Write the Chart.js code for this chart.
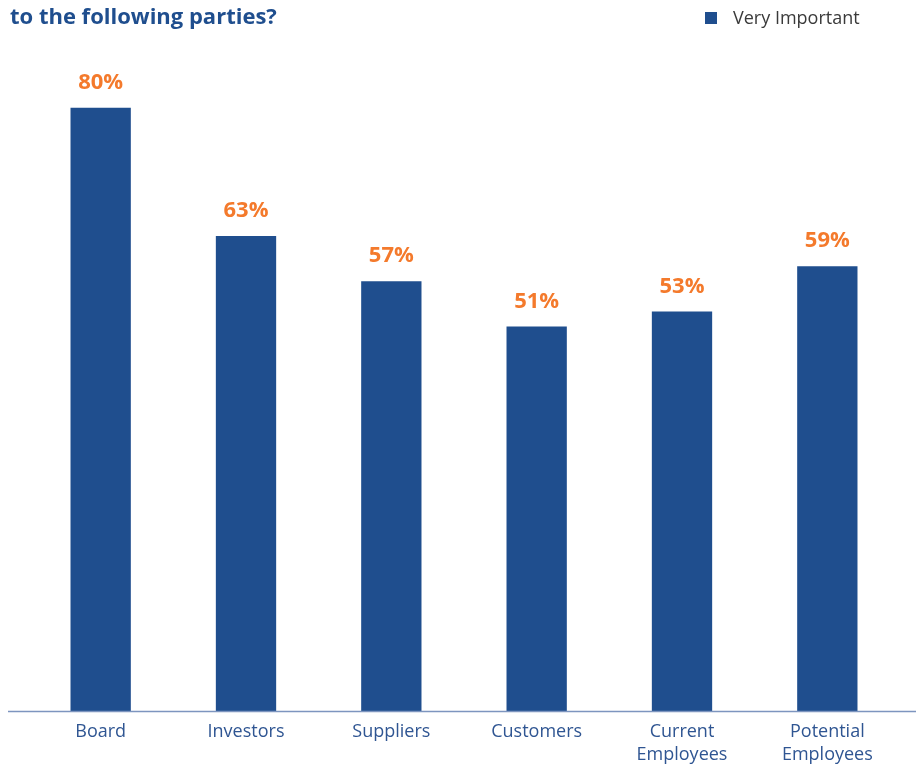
<!DOCTYPE html>
<html>
<head>
<meta charset="utf-8">
<script src="https://cdn.jsdelivr.net/npm/chart.js@4"></script>
<style>
  html, body { margin: 0; padding: 0; background: #ffffff; }
  #wrap { width: 916px; height: 765px; position: relative; }
</style>
</head>
<body>
<div id="wrap"><canvas id="c" width="916" height="765"></canvas></div>
<script>
const titleText = "to the following parties?";
const seriesName = "Very Important";
const categories = ["Board", "Investors", "Suppliers", "Customers", ["Current", "Employees"], ["Potential", "Employees"]];
const veryImportant = [80, 63, 57, 51, 53, 59];

const BAR = "#1F4E8E";
const ORANGE = "#F47A2C";
const FONT = "'Open Sans', sans-serif";

const decor = {
  id: "decor",
  afterDatasetsDraw(chart) {
    const ctx = chart.ctx;
    const area = chart.chartArea;
    ctx.save();
    // baseline
    ctx.strokeStyle = "#7d95bf";
    ctx.lineWidth = 1.5;
    ctx.beginPath();
    ctx.moveTo(8, area.bottom + 0.5);
    ctx.lineTo(chart.width, area.bottom + 0.5);
    ctx.stroke();
    // value labels
    const meta = chart.getDatasetMeta(0);
    ctx.fillStyle = ORANGE;
    ctx.font = "bold 22px " + FONT;
    ctx.textAlign = "center";
    ctx.textBaseline = "middle";
    meta.data.forEach((bar, i) => {
      ctx.fillText(chart.data.datasets[0].data[i] + "%", bar.x, bar.y - 25);
    });
    // title
    ctx.fillStyle = "#1F4E8E";
    ctx.font = "bold 22px " + FONT;
    ctx.textAlign = "left";
    ctx.textBaseline = "middle";
    ctx.fillText(titleText, 10, 18);
    // legend
    const ds = chart.data.datasets[0];
    ctx.fillStyle = ds.backgroundColor;
    ctx.fillRect(705, 12, 12, 12);
    ctx.fillStyle = "#3a3a3a";
    ctx.font = "18px " + FONT;
    ctx.fillText(ds.label, 733, 19);
    ctx.restore();
  }
};

new Chart(document.getElementById("c"), {
  type: "bar",
  data: {
    labels: categories,
    datasets: [{
      label: seriesName,
      data: veryImportant,
      backgroundColor: BAR,
      borderWidth: 0,
      categoryPercentage: 1,
      barPercentage: 0.415
    }]
  },
  options: {
    responsive: false,
    animation: false,
    devicePixelRatio: 1,
    layout: { padding: { top: 40, left: 28, right: 16, bottom: -10 } },
    plugins: {
      legend: { display: false },
      title: { display: false },
      tooltip: { enabled: false }
    },
    scales: {
      x: {
        grid: { display: false, drawTicks: false },
        border: { display: false },
        ticks: {
          color: "#2F5592",
          padding: 9,
          maxRotation: 0,
          font: { family: FONT, size: 18, lineHeight: 1.28 }
        }
      },
      y: {
        display: false,
        min: 0,
        max: 89
      }
    }
  },
  plugins: [decor]
});
</script>
</body>
</html>
